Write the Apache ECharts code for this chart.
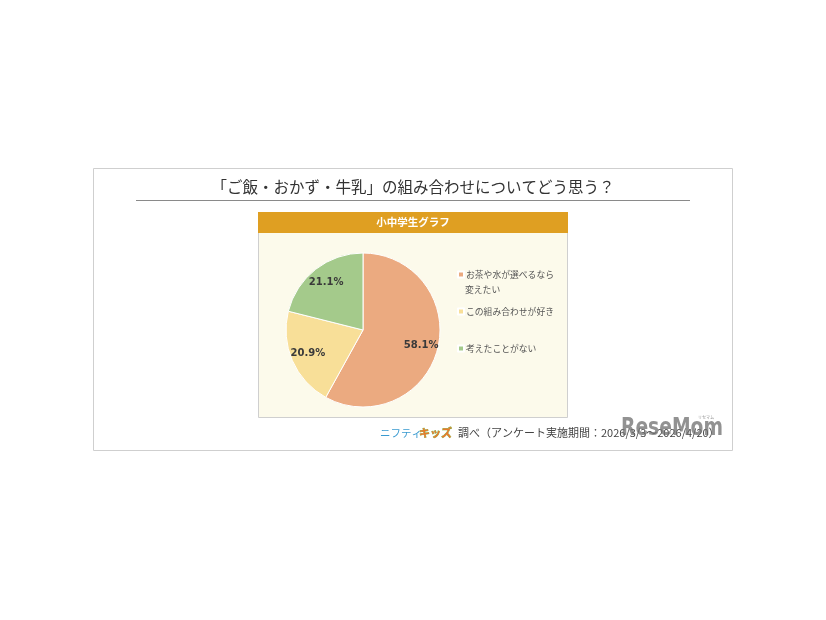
<!DOCTYPE html>
<html>
<head>
<meta charset="utf-8">
<script src="https://cdn.jsdelivr.net/npm/echarts@6/dist/echarts.min.js"></script>
<style>
html,body{margin:0;padding:0;background:#fff;}
#chart{width:826px;height:620px;}
</style>
</head>
<body>
<div id="chart"></div>
<script>
const titleText = '「ご飯・おかず・牛乳」の組み合わせについてどう思う？';
const panelTitle = '小中学生グラフ';
const categories = ['お茶や水が選べるなら変えたい', 'この組み合わせが好き', '考えたことがない'];
const values = [58.1, 20.9, 21.1];
const colors = ['#EBAA80', '#F8DF98', '#A4CA8B'];
const sourceText = '調べ（アンケート実施期間：2026/3/3～2026/4/20）';

const JP = '"Noto Sans CJK JP", "Noto Sans", sans-serif';
const chart = echarts.init(document.getElementById('chart'), null, {renderer: 'canvas'});

const data = categories.map((c, i) => ({name: c, value: values[i], itemStyle: {color: colors[i]}}));

const legendTops = [270, 307, 344];
const legends = categories.map((c, i) => ({
  data: [c],
  left: 457,
  top: legendTops[i],
  padding: 0,
  orient: 'vertical',
  icon: 'rect',
  itemWidth: 6,
  itemHeight: 6,
  itemGap: 4,
  selectedMode: false,
  formatter: n => (i === 0 ? 'お茶や水が選べるなら' : n),
  textStyle: {fontSize: 8.8, color: '#555', fontFamily: JP, padding: [0, 0, 0, -3]}
}));

chart.setOption({
  animation: false,
  color: colors,
  legend: legends,
  graphic: [
    {type: 'rect', z: -10, shape: {x: 93.5, y: 168.5, width: 639, height: 282}, style: {fill: '#fff', stroke: '#cfcfcf', lineWidth: 1}},
    {type: 'text', z: 1, style: {x: 413, y: 187, text: titleText, fill: '#333', font: '15.5px ' + JP, textAlign: 'center', textVerticalAlign: 'middle'}},
    {type: 'line', z: 1, shape: {x1: 136, y1: 200.5, x2: 690, y2: 200.5}, style: {stroke: '#8a8a8a', lineWidth: 1}},
    {type: 'rect', z: -5, shape: {x: 258.5, y: 212.5, width: 309, height: 205}, style: {fill: '#FCFAEB', stroke: '#cfcfcf', lineWidth: 1}},
    {type: 'rect', z: -4, shape: {x: 258, y: 212, width: 310, height: 21}, style: {fill: '#DF9F22'}},
    {type: 'text', z: 1, style: {x: 413, y: 222.5, text: panelTitle, fill: '#fff', font: 'bold 10.5px ' + JP, textAlign: 'center', textVerticalAlign: 'middle'}},
    {type: 'text', z: 1, style: {x: 465, y: 290, text: '変えたい', fill: '#555', font: '8.8px ' + JP, textAlign: 'left', textVerticalAlign: 'middle'}},
    {type: 'text', z: 1, style: {x: 380, y: 433, text: 'ニフティ', fill: '#3A9AD0', font: '10.5px ' + JP, textAlign: 'left', textVerticalAlign: 'middle'}},
    {type: 'text', z: 1, style: {x: 419, y: 433, text: 'キッズ', fill: '#E8792A', font: 'bold 11px ' + JP, textAlign: 'left', textVerticalAlign: 'middle', stroke: '#6FB43F', lineWidth: 0.6}},
    {type: 'text', z: 1, style: {x: 458, y: 433, text: sourceText, fill: '#444', font: '11px ' + JP, textAlign: 'left', textVerticalAlign: 'middle'}},
    {type: 'text', z: 5, x: 621, y: 429, scaleX: 0.78, style: {x: 0, y: 0, text: 'ReseMom', fill: 'rgba(110,110,110,0.75)', font: 'bold 24px "DejaVu Sans", sans-serif', textAlign: 'left', textVerticalAlign: 'middle'}},
    {type: 'text', z: 5, style: {x: 706, y: 417, text: 'リセマム', fill: 'rgba(110,110,110,0.75)', font: '4px ' + JP, textAlign: 'center', textVerticalAlign: 'middle'}}
  ],
  series: [
    {
      type: 'pie',
      center: [363, 330],
      radius: 77,
      startAngle: 90,
      clockwise: true,
      label: {show: false},
      labelLine: {show: false},
      itemStyle: {borderColor: '#fff', borderWidth: 1},
      emphasis: {disabled: true},
      data: data
    },
    {
      type: 'pie',
      center: [363, 330],
      radius: [37, 77],
      startAngle: 90,
      clockwise: true,
      silent: true,
      itemStyle: {color: 'rgba(0,0,0,0)', borderWidth: 0},
      label: {
        show: true,
        position: 'inside',
        formatter: p => p.value.toFixed(1) + '%',
        fontSize: 10,
        fontWeight: 'bold',
        color: '#3a3a3a',
        fontFamily: '"DejaVu Sans", sans-serif'
      },
      labelLine: {show: false},
      emphasis: {disabled: true},
      data: categories.map((c, i) => ({name: c, value: values[i]}))
    }
  ]
});
</script>
</body>
</html>
